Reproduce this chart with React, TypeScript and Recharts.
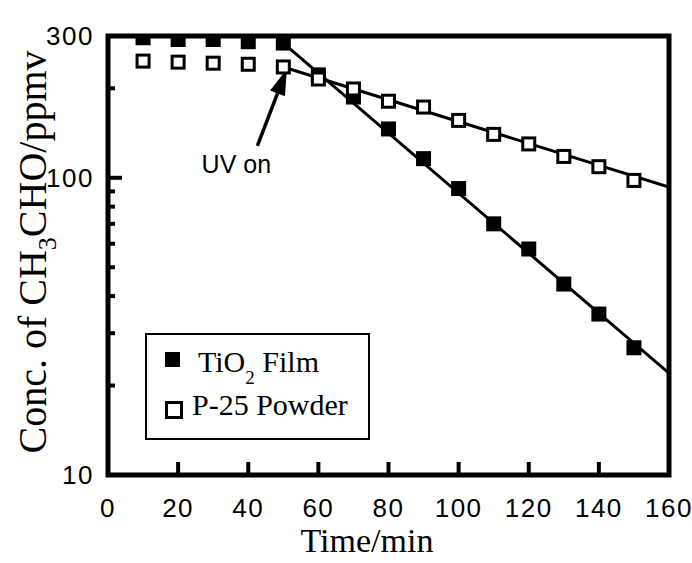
import React from 'react'
import { ComposedChart, Line, Scatter, XAxis, YAxis, ReferenceArea, ReferenceLine, Legend } from 'recharts'

// time points (min)
const minutes = [10, 20, 30, 40, 50, 60, 70, 80, 90, 100, 110, 120, 130, 140, 150]
// CH3CHO concentration (ppmv)
const tio2Film = [296, 292, 292, 287, 284, 222, 187, 146, 116, 92, 70, 57.6, 43.9, 34.8, 26.8]
const p25Powder = [247, 245, 243, 241, 236, 215, 199, 181, 173, 156, 140, 130, 118, 109, 98]
// fitted lines after UV on
const fitMinutes = [50, 160]
const tio2Fit = [284, 22]
const p25Fit = [236, 93]

const xTicks = [0, 20, 40, 60, 80, 100, 120, 140, 160]
const yTicks = [10, 20, 30, 40, 50, 60, 70, 80, 90, 100, 200, 300]
const yLabels = [10, 100, 300]

const arrowTail = { x: 42.6, y: 128 }
const arrowHead = { x: 51, y: 232 }

const filmData = minutes.map((x, i) => ({ x, y: tio2Film[i] }))
const powderData = minutes.map((x, i) => ({ x, y: p25Powder[i] }))
const filmFitData = fitMinutes.map((x, i) => ({ x, y: tio2Fit[i] }))
const powderFitData = fitMinutes.map((x, i) => ({ x, y: p25Fit[i] }))

const SANS = '"Liberation Sans", Arial, sans-serif'
const SERIF = '"Liberation Serif", "Times New Roman", serif'

const FilledSquare = (props: any) => {
    const { cx, cy } = props
    return <rect x={cx - 7.5} y={cy - 7.5} width={15} height={15} fill="#000" />
}

const OpenSquare = (props: any) => {
    const { cx, cy } = props
    return <rect x={cx - 6} y={cy - 6} width={12} height={12} fill="#fff" stroke="#000" strokeWidth={3} />
}

const YTick = (props: any) => {
    const { x, y, payload } = props
    const v = payload.value
    const axisX = x + 14
    const len = v === 100 ? 14 : 7
    return (
        <g>
            {v !== 10 && v !== 300 && (
                <line x1={axisX} y1={y} x2={axisX + len} y2={y} stroke="#000" strokeWidth={4} />
            )}
            {yLabels.includes(v) && (
                <text x={x} y={y} dy="0.36em" textAnchor="end" fontFamily={SANS} fontSize={26} letterSpacing={1.5} fill="#000">
                    {v}
                </text>
            )}
        </g>
    )
}

const XTick = (props: any) => {
    const { x, y, payload } = props
    const v = payload.value
    const axisY = y - 24
    return (
        <g>
            {v !== 0 && v !== 160 && (
                <line x1={x} y1={axisY} x2={x} y2={axisY - 13} stroke="#000" strokeWidth={4} />
            )}
            <text x={x} y={y} dy="0.71em" textAnchor="middle" fontFamily={SANS} fontSize={26} letterSpacing={1.5} fill="#000">
                {v}
            </text>
        </g>
    )
}

const YLabel = () => (
    <text
        transform="translate(46, 252) rotate(-90)"
        textAnchor="middle"
        fontFamily={SERIF}
        fontSize={40}
        fill="#000"
    >
        Conc. of CH<tspan dy={10} fontSize={26}>3</tspan>
        <tspan dy={-10}>CHO/ppmv</tspan>
    </text>
)

const XLabel = () => (
    <text x={367} y={552} textAnchor="middle" fontFamily={SERIF} fontSize={34} fill="#000">
        Time/min
    </text>
)

const ArrowShape = (props: any) => {
    const { x1, y1, x2, y2 } = props
    const ang = Math.atan2(y2 - y1, x2 - x1)
    const headLen = 26
    const headW = 8
    const bx = x2 - headLen * Math.cos(ang)
    const by = y2 - headLen * Math.sin(ang)
    const px = -Math.sin(ang) * headW
    const py = Math.cos(ang) * headW
    return (
        <g>
            <line x1={x1} y1={y1} x2={bx} y2={by} stroke="#000" strokeWidth={3.5} />
            <polygon points={`${x2},${y2} ${bx + px},${by + py} ${bx - px},${by - py}`} fill="#000" />
            <text x={x1 - 21} y={y1 + 27} textAnchor="middle" fontFamily={SANS} fontSize={25} fill="#000">
                UV on
            </text>
        </g>
    )
}

const LegendBox = () => (
    <div
        style={{
            position: 'relative',
            width: 225,
            height: 107,
            border: '2.5px solid #000',
            boxSizing: 'border-box',
            background: '#fff',
            fontFamily: SERIF,
            fontSize: 30,
            lineHeight: 1,
            color: '#000',
        }}
    >
        <div style={{ position: 'absolute', left: 18, top: 17, width: 15, height: 15, background: '#000' }} />
        <div style={{ position: 'absolute', left: 51, top: 12, whiteSpace: 'nowrap' }}>
            TiO<span style={{ fontSize: 19, position: 'relative', top: 12 }}>2</span> Film
        </div>
        <div style={{ position: 'absolute', left: 18, top: 66, width: 12, height: 12, border: '3px solid #000' }} />
        <div style={{ position: 'absolute', left: 45, top: 55, whiteSpace: 'nowrap' }}>P-25 Powder</div>
    </div>
)

export default function App() {
    return (
        <div style={{ position: 'absolute', left: 0, top: 0, background: '#fff' }}>
            <ComposedChart width={692} height={563} margin={{ top: 36, right: 23, left: 8, bottom: 8 }}>
                <XAxis
                    type="number"
                    dataKey="x"
                    domain={[0, 160]}
                    ticks={xTicks}
                    height={80}
                    axisLine={false}
                    tickLine={false}
                    tickSize={0}
                    tickMargin={24}
                    tick={<XTick />}
                    label={<XLabel />}
                    allowDataOverflow
                />
                <YAxis
                    type="number"
                    dataKey="y"
                    scale="log"
                    domain={[10, 300]}
                    ticks={yTicks}
                    width={100}
                    axisLine={false}
                    tickLine={false}
                    tickSize={0}
                    tickMargin={14}
                    tick={<YTick />}
                    interval={0}
                    label={<YLabel />}
                    allowDataOverflow
                />
                <ReferenceArea x1={0} x2={160} y1={10} y2={300} fill="none" stroke="#000" strokeWidth={5} ifOverflow="visible" />
                <Line data={filmFitData} dataKey="y" type="linear" stroke="#000" strokeWidth={3} dot={false} isAnimationActive={false} legendType="none" />
                <Line data={powderFitData} dataKey="y" type="linear" stroke="#000" strokeWidth={3} dot={false} isAnimationActive={false} legendType="none" />
                <Scatter name="TiO2 Film" data={filmData} dataKey="y" shape={FilledSquare} isAnimationActive={false} />
                <Scatter name="P-25 Powder" data={powderData} dataKey="y" shape={OpenSquare} isAnimationActive={false} />
                <ReferenceLine segment={[arrowTail, arrowHead]} shape={ArrowShape} ifOverflow="visible" />
                <Legend
                    layout="vertical"
                    align="center"
                    verticalAlign="middle"
                    content={<LegendBox />}
                    wrapperStyle={{ left: 145, top: 333, width: 225, height: 107 }}
                />
            </ComposedChart>
        </div>
    )
}
